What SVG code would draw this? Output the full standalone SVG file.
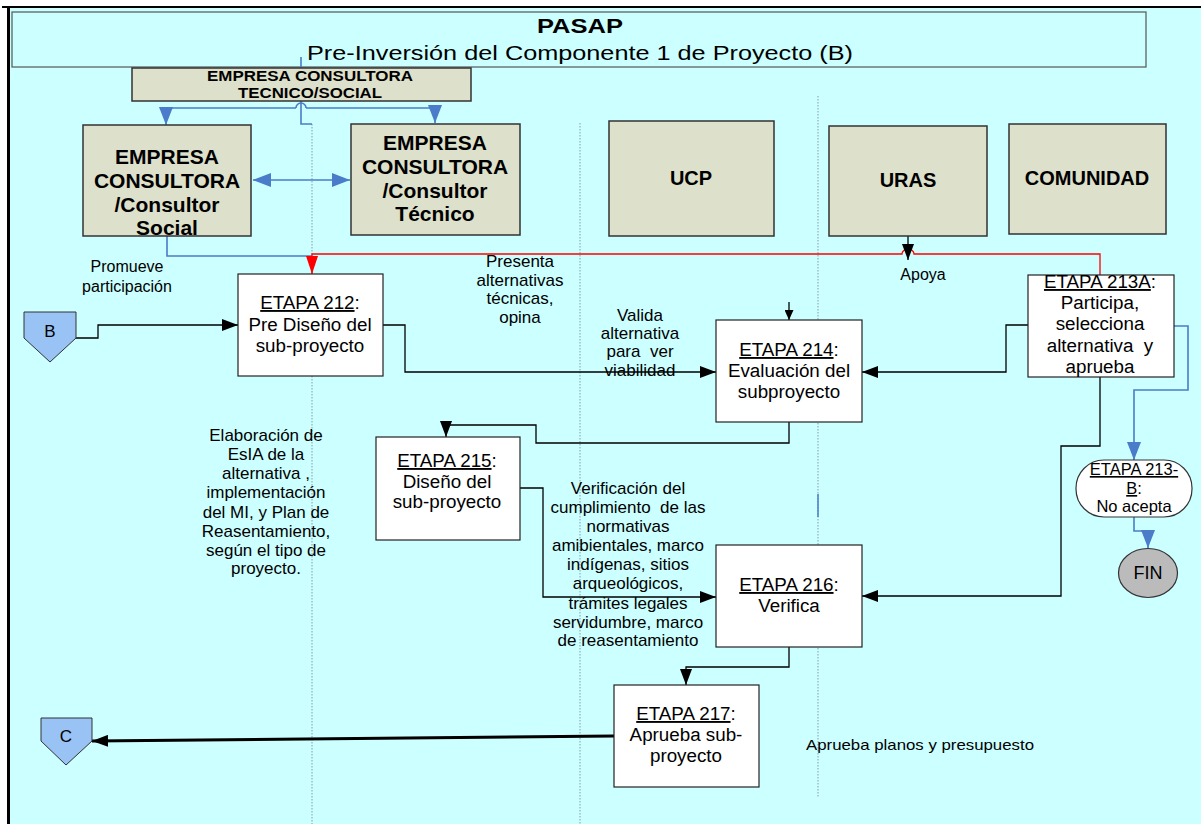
<svg xmlns="http://www.w3.org/2000/svg" width="1201" height="824" viewBox="0 0 1201 824">
<style>
text{font-family:"Liberation Sans",Arial,sans-serif;fill:#000}
.lane{stroke:#8a9aa8;stroke-width:1;stroke-dasharray:1.5 1.5;fill:none}
.actor{fill:#DDE0CA;stroke:#333;stroke-width:1.5}
.step{fill:#fff;stroke:#222;stroke-width:1.2}
.big{font-size:21px;font-weight:bold;text-anchor:middle}
.act{font-size:20px;font-weight:bold;text-anchor:middle}
.st{font-size:18.8px;text-anchor:middle}
.lb{font-size:17px;text-anchor:middle}
.lbs{font-size:16px;text-anchor:middle}
.k{fill:none;stroke:#000;stroke-width:1.3}
.bl{fill:none;stroke:#4A7CC9;stroke-width:1.6}
.rd{fill:none;stroke:#FF0000;stroke-width:1.3}
</style>
<defs>
<marker id="ak" markerUnits="userSpaceOnUse" markerWidth="16" markerHeight="12" refX="16" refY="6" orient="auto"><path d="M0,0 L16,6 L0,12 z" fill="#000"/></marker>
<marker id="aks" markerUnits="userSpaceOnUse" markerWidth="10" markerHeight="9" refX="10" refY="4.5" orient="auto"><path d="M0,0 L10,4.5 L0,9 z" fill="#000"/></marker>
<marker id="ab" markerUnits="userSpaceOnUse" markerWidth="18" markerHeight="14" refX="18" refY="7" orient="auto-start-reverse"><path d="M0,0 L18,7 L0,14 z" fill="#4A7CC9"/></marker>
<marker id="ar" markerUnits="userSpaceOnUse" markerWidth="18" markerHeight="12" refX="18" refY="6" orient="auto"><path d="M0,0 L18,6 L0,12 z" fill="#FF0000"/></marker>
</defs>
<rect x="0" y="0" width="1201" height="824" fill="#fff"/>
<rect x="9" y="8" width="1192" height="816" fill="#CCFFFF"/>
<line x1="2" y1="7" x2="1201" y2="7" stroke="#000" stroke-width="2"/>
<line x1="8.5" y1="7" x2="8.5" y2="824" stroke="#000" stroke-width="3"/>

<g id="lanes">
<line class="lane" x1="312" y1="124" x2="312" y2="824"/>
<line class="lane" x1="580" y1="123" x2="580" y2="824"/>
<line class="lane" x1="818" y1="96" x2="818" y2="797"/>
<line x1="818" y1="494" x2="818" y2="517" stroke="#4A7CC9" stroke-width="1.5"/>
</g>

<g id="title">
<rect x="12" y="12" width="1134" height="55" fill="#CCFFFF" stroke="#555" stroke-width="1.2"/>
<text x="580" y="33" font-size="20" font-weight="bold" text-anchor="middle" textLength="86" lengthAdjust="spacingAndGlyphs">PASAP</text>
<text x="580" y="60" font-size="20" text-anchor="middle" textLength="546" lengthAdjust="spacingAndGlyphs">Pre-Inversión del Componente 1 de Proyecto (B)</text>
</g>

<g id="connectors">
<path class="bl" d="M301,57 V124 H312"/>
<path class="bl" d="M296,108 H166 V125" marker-end="url(#ab)"/>
<path class="bl" d="M306,108 H435 V123" marker-end="url(#ab)"/>
<path class="bl" d="M296,108 A5,5 0 0 1 306,108"/>
<path class="bl" d="M253,180 H350" marker-start="url(#ab)" marker-end="url(#ab)"/>
<path class="bl" d="M167,236 V256 H312"/>
<path class="rd" d="M1100,275 V254 H914 A6,5 0 0 0 902,254 H312 V274" marker-end="url(#ar)"/>
<path class="k" d="M908,236 V260" marker-end="url(#ak)"/>
<path class="k" d="M789,302 V320" marker-end="url(#aks)"/>
<path class="k" d="M76,338 H98 V325 H238" marker-end="url(#ak)"/>
<path class="k" d="M383,325 H405 V372 H716" marker-end="url(#ak)"/>
<path class="k" d="M1028,325 H1006 V372 H862" marker-end="url(#ak)"/>
<path class="k" d="M1100,377 V446 H1061 V596 H862" marker-end="url(#ak)"/>
<path class="k" d="M789,422 V443 H536 V425 H446 V437" marker-end="url(#ak)"/>
<path class="k" d="M520,488 H543 V597 H716" marker-end="url(#ak)"/>
<path class="k" d="M789,647 V667 H686 V685" marker-end="url(#ak)"/>
<path d="M614,736 L92,741" fill="none" stroke="#000" stroke-width="3" marker-end="url(#ak)"/>
<path class="bl" d="M1173,326 H1188 V390 H1134 V460" marker-end="url(#ab)"/>
<path class="bl" d="M1134,517 V531 H1148 V548" marker-end="url(#ab)"/>
</g>

<g id="empresa-tecnico-social">
<rect class="actor" x="132" y="68" width="339" height="33"/>
<text x="310" y="81" font-size="14" font-weight="bold" text-anchor="middle" textLength="206" lengthAdjust="spacingAndGlyphs">EMPRESA CONSULTORA</text>
<text x="310" y="98" font-size="14" font-weight="bold" text-anchor="middle" textLength="144" lengthAdjust="spacingAndGlyphs">TECNICO/SOCIAL</text>
</g>

<g id="empresa-social">
<rect class="actor" x="83" y="125" width="168" height="111"/>
<text class="big" x="167" y="164">EMPRESA</text>
<text class="big" x="167" y="188">CONSULTORA</text>
<text class="big" x="167" y="212">/Consultor</text>
<text class="big" x="167" y="235">Social</text>
</g>

<g id="empresa-tecnico">
<rect class="actor" x="351" y="124" width="169" height="111"/>
<text class="big" x="435" y="150">EMPRESA</text>
<text class="big" x="435" y="174">CONSULTORA</text>
<text class="big" x="435" y="198">/Consultor</text>
<text class="big" x="435" y="221">Técnico</text>
</g>

<g id="ucp">
<rect class="actor" x="609" y="121" width="165" height="115"/>
<text class="act" x="691" y="185">UCP</text>
</g>
<g id="uras">
<rect class="actor" x="829" y="126" width="158" height="110"/>
<text class="act" x="908" y="187">URAS</text>
</g>
<g id="comunidad">
<rect class="actor" x="1009" y="124" width="157" height="110"/>
<text class="act" x="1087" y="185">COMUNIDAD</text>
</g>

<g id="labels">
<text class="lbs" x="127" y="272">Promueve</text>
<text class="lbs" x="127" y="292">participación</text>
<text class="lb" x="520" y="267">Presenta</text>
<text class="lb" x="520" y="286">alternativas</text>
<text class="lb" x="520" y="304">técnicas,</text>
<text class="lb" x="520" y="323">opina</text>
<text class="lbs" x="923" y="280">Apoya</text>
<text class="lb" x="640" y="321">Valida</text>
<text class="lb" x="640" y="339">alternativa</text>
<text class="lb" x="640" y="357">para&#160; ver</text>
<text class="lb" x="640" y="376">viabilidad</text>
<text class="lb" x="266" y="441">Elaboración de</text>
<text class="lb" x="266" y="460">EsIA de la</text>
<text class="lb" x="266" y="479">alternativa ,</text>
<text class="lb" x="266" y="498">implementación</text>
<text class="lb" x="266" y="518">del MI, y Plan de</text>
<text class="lb" x="266" y="537">Reasentamiento,</text>
<text class="lb" x="266" y="556">según el tipo de</text>
<text class="lb" x="266" y="574">proyecto.</text>
<text class="lb" x="628" y="494">Verificación del</text>
<text class="lb" x="628" y="513">cumplimiento&#160; de las</text>
<text class="lb" x="628" y="532">normativas</text>
<text class="lb" x="628" y="551">amibientales, marco</text>
<text class="lb" x="628" y="570">indígenas, sitios</text>
<text class="lb" x="628" y="589">arqueológicos,</text>
<text class="lb" x="628" y="609">trámites legales</text>
<text class="lb" x="628" y="628">servidumbre, marco</text>
<text class="lb" x="628" y="646">de reasentamiento</text>
<text x="806" y="750" font-size="15" textLength="228" lengthAdjust="spacingAndGlyphs">Aprueba planos y presupuesto</text>
</g>

<g id="conn-b">
<path d="M24,312 H76 V338 L50,362 L24,338 z" fill="#99C2F5" stroke="#333" stroke-width="1"/>
<text x="50" y="337" font-size="17" text-anchor="middle">B</text>
</g>
<g id="conn-c">
<path d="M41,718 H92 V741 L66,765 L41,741 z" fill="#99C2F5" stroke="#333" stroke-width="1"/>
<text x="66" y="742" font-size="17" text-anchor="middle">C</text>
</g>

<g id="etapa-212">
<rect class="step" x="238" y="274" width="145" height="102"/>
<text class="st" x="310" y="309"><tspan text-decoration="underline">ETAPA 212</tspan>:</text>
<text class="st" x="310" y="331">Pre Diseño del</text>
<text class="st" x="310" y="352">sub-proyecto</text>
</g>

<g id="etapa-214">
<rect class="step" x="716" y="320" width="146" height="102"/>
<text class="st" x="789" y="356"><tspan text-decoration="underline">ETAPA 214</tspan>:</text>
<text class="st" x="789" y="377">Evaluación del</text>
<text class="st" x="789" y="398">subproyecto</text>
</g>

<g id="etapa-213a">
<rect class="step" x="1028" y="275" width="146" height="102"/>
<text class="st" x="1100" y="288"><tspan text-decoration="underline">ETAPA 213A</tspan>:</text>
<text class="st" x="1100" y="309">Participa,</text>
<text class="st" x="1100" y="330">selecciona</text>
<text class="st" x="1100" y="352">alternativa&#160; y</text>
<text class="st" x="1100" y="373">aprueba</text>
</g>

<g id="etapa-213b">
<rect x="1076" y="460" width="116" height="57" rx="28" ry="28" fill="#fff" stroke="#333" stroke-width="1.2"/>
<text x="1134" y="475" font-size="16.5" text-anchor="middle"><tspan text-decoration="underline">ETAPA 213-</tspan></text>
<text x="1134" y="494" font-size="16.5" text-anchor="middle"><tspan text-decoration="underline">B</tspan>:</text>
<text x="1134" y="512" font-size="16.5" text-anchor="middle">No acepta</text>
</g>

<g id="fin">
<ellipse cx="1148" cy="573" rx="29.5" ry="24.5" fill="#BBBBBB" stroke="#333" stroke-width="1.2"/>
<text x="1148" y="579" font-size="18" text-anchor="middle">FIN</text>
</g>

<g id="etapa-215">
<rect class="step" x="376" y="437" width="144" height="103"/>
<text class="st" x="447" y="467"><tspan text-decoration="underline">ETAPA 215</tspan>:</text>
<text class="st" x="447" y="488">Diseño del</text>
<text class="st" x="447" y="508">sub-proyecto</text>
</g>

<g id="etapa-216">
<rect class="step" x="716" y="545" width="146" height="102"/>
<text class="st" x="789" y="591"><tspan text-decoration="underline">ETAPA 216</tspan>:</text>
<text class="st" x="789" y="612">Verifica</text>
</g>

<g id="etapa-217">
<rect class="step" x="614" y="685" width="145" height="102"/>
<text class="st" x="686" y="720"><tspan text-decoration="underline">ETAPA 217</tspan>:</text>
<text class="st" x="686" y="741">Aprueba sub-</text>
<text class="st" x="686" y="762">proyecto</text>
</g>
</svg>
